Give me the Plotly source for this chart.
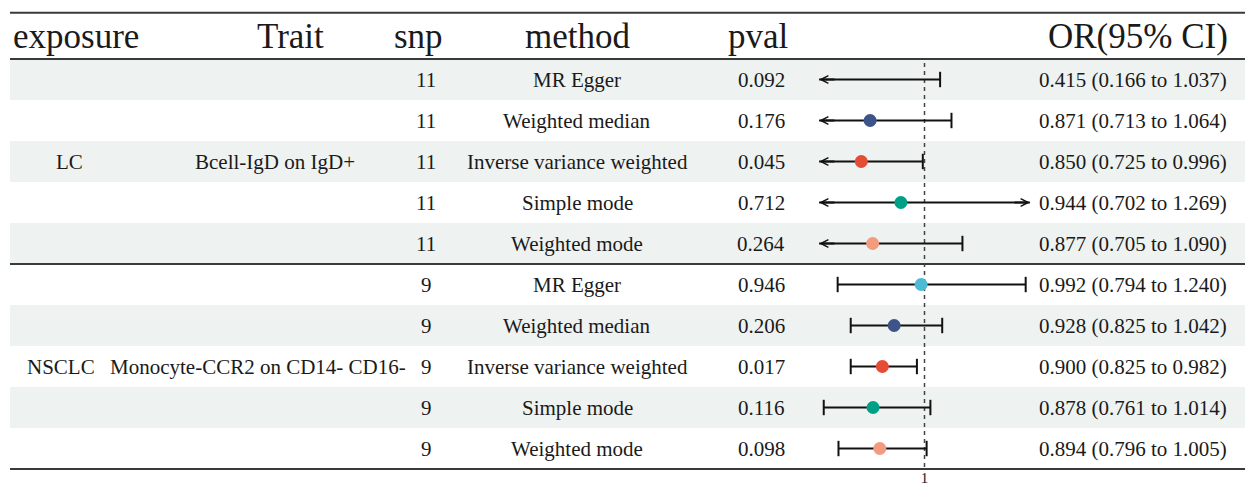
import plotly.graph_objects as go

# ---------------- data ----------------
exposures = ["LC", "NSCLC"]
traits = ["Bcell-IgD on IgD+", "Monocyte-CCR2 on CD14- CD16-"]
snps = [11, 11, 11, 11, 11, 9, 9, 9, 9, 9]
methods = ["MR Egger", "Weighted median", "Inverse variance weighted", "Simple mode", "Weighted mode",
           "MR Egger", "Weighted median", "Inverse variance weighted", "Simple mode", "Weighted mode"]
pvals = ["0.092", "0.176", "0.045", "0.712", "0.264", "0.946", "0.206", "0.017", "0.116", "0.098"]
or_est = [0.415, 0.871, 0.850, 0.944, 0.877, 0.992, 0.928, 0.900, 0.878, 0.894]
or_lo = [0.166, 0.713, 0.725, 0.702, 0.705, 0.794, 0.825, 0.825, 0.761, 0.796]
or_hi = [1.037, 1.064, 0.996, 1.269, 1.090, 1.240, 1.042, 0.982, 1.014, 1.005]
x_limits = [0.75, 1.25]
ref_value = 1
tick_vals = [1]
tick_text = ["1"]
headers = ["exposure", "Trait", "snp", "method", "pval", "OR(95% CI)"]

method_colors = {
    "MR Egger": "#4DBBD5",
    "Weighted median": "#3C5488",
    "Inverse variance weighted": "#E64B35",
    "Simple mode": "#00A087",
    "Weighted mode": "#F39B7F",
}

# ---------------- layout helpers ----------------
W, H = 1252, 487
FONT = "Liberation Serif, Times New Roman, serif"
TXT = "#1a1a1a"
n = len(methods)


def px(x):
    return x / W


fig = go.Figure()
shapes = []
annotations = []

# zebra bands
for r in range(n):
    if r % 2 == 0:
        shapes.append(dict(type="rect", xref="paper", yref="y", x0=px(10), x1=px(1245),
                           y0=r - 0.5, y1=r + 0.5, fillcolor="#eef2f1", line=dict(width=0),
                           layer="below"))

# horizontal rules
for yv in [-1.63, -0.5, 4.5, 9.5]:
    shapes.append(dict(type="line", xref="paper", yref="y", x0=px(10), x1=px(1245),
                       y0=yv, y1=yv, line=dict(color="#3a3a3a", width=2)))

# reference line
shapes.append(dict(type="line", xref="x", yref="y", x0=ref_value, x1=ref_value,
                   y0=-0.4, y1=9.5, line=dict(color="#444444", width=1.5, dash="4px,4px"),
                   layer="below"))

# headers
hdr_y = -1.05
hdr_pos = [(11, "left"), (290, "center"), (418, "center"), (577, "center"), (758, "center"),
           (1230, "right")]
for h, (xp, al) in zip(headers, hdr_pos):
    annotations.append(dict(x=px(xp), y=hdr_y, xref="paper", yref="y", text=h, showarrow=False,
                            xanchor=al, yanchor="middle", font=dict(family=FONT, size=35, color=TXT)))

BODY = dict(family=FONT, size=21, color=TXT)
# group columns
group_rows = [2, 7]
exp_x = [69, 61]
trait_x = [275, 258]
for g, r in enumerate(group_rows):
    annotations.append(dict(x=px(exp_x[g]), y=r, xref="paper", yref="y", text=exposures[g],
                            showarrow=False, xanchor="center", yanchor="middle", font=BODY))
    annotations.append(dict(x=px(trait_x[g]), y=r, xref="paper", yref="y", text=traits[g],
                            showarrow=False, xanchor="center", yanchor="middle", font=BODY))

for r in range(n):
    annotations.append(dict(x=px(426), y=r, xref="paper", yref="y", text=str(snps[r]),
                            showarrow=False, xanchor="center", yanchor="middle", font=BODY))
    annotations.append(dict(x=px(577), y=r, xref="paper", yref="y", text=methods[r],
                            showarrow=False, xanchor="center", yanchor="middle", font=BODY))
    annotations.append(dict(x=px(761), y=r, xref="paper", yref="y", text=pvals[r],
                            showarrow=False, xanchor="center", yanchor="middle", font=BODY))
    label = f"{or_est[r]:.3f} ({or_lo[r]:.3f} to {or_hi[r]:.3f})"
    annotations.append(dict(x=px(1229), y=r, xref="paper", yref="y", text=label,
                            showarrow=False, xanchor="right", yanchor="middle", font=BODY))

# ---------------- forest marks ----------------
lo_lim, hi_lim = x_limits
line_x, line_y, cap_x, cap_y = [], [], [], []
for r in range(n):
    lo_c = max(or_lo[r], lo_lim)
    hi_c = min(or_hi[r], hi_lim)
    line_x += [lo_c, hi_c, None]
    line_y += [r, r, None]
    if or_lo[r] >= lo_lim:
        cap_x.append(or_lo[r]); cap_y.append(r)
    else:
        annotations.append(dict(x=lo_lim, y=r, ax=lo_lim + 0.04, ay=r, xref="x", yref="y",
                                axref="x", ayref="y", showarrow=True, arrowhead=5, arrowsize=0.75,
                                arrowwidth=2, arrowcolor="#111111", standoff=0, text=""))
    if or_hi[r] <= hi_lim:
        cap_x.append(or_hi[r]); cap_y.append(r)
    else:
        annotations.append(dict(x=hi_lim, y=r, ax=hi_lim - 0.04, ay=r, xref="x", yref="y",
                                axref="x", ayref="y", showarrow=True, arrowhead=5, arrowsize=0.75,
                                arrowwidth=2, arrowcolor="#111111", standoff=0, text=""))

fig.add_trace(go.Scatter(x=line_x, y=line_y, mode="lines", line=dict(color="#111111", width=2),
                         hoverinfo="skip", showlegend=False))
fig.add_trace(go.Scatter(x=cap_x, y=cap_y, mode="markers",
                         marker=dict(symbol="line-ns", size=11, line=dict(color="#111111", width=2)),
                         hoverinfo="skip", showlegend=False))
fig.add_trace(go.Scatter(x=or_est, y=list(range(n)), mode="markers",
                         marker=dict(size=13, color=[method_colors[m] for m in methods],
                                     line=dict(width=0)),
                         showlegend=False))

fig.update_layout(
    width=W, height=H, margin=dict(l=0, r=0, t=0, b=0, autoexpand=False),
    paper_bgcolor="white", plot_bgcolor="rgba(0,0,0,0)",
    shapes=shapes, annotations=annotations,
    xaxis=dict(domain=[819.1 / W, 1029.9 / W], range=x_limits, tickvals=tick_vals,
               ticktext=tick_text, showgrid=False, zeroline=False, showline=False, ticks="",
               automargin=False, ticklabelstandoff=-3,
               tickfont=dict(family=FONT, size=15, color=TXT)),
    yaxis=dict(domain=[(H - 470) / H, 1], range=[9.524, -1.939], showgrid=False,
               zeroline=False, showline=False, showticklabels=False, ticks="", automargin=False),
)

fig.write_html("out.html", config={"displayModeBar": False},
               post_script="document.body.style.margin='0';document.body.style.overflow='hidden';")
